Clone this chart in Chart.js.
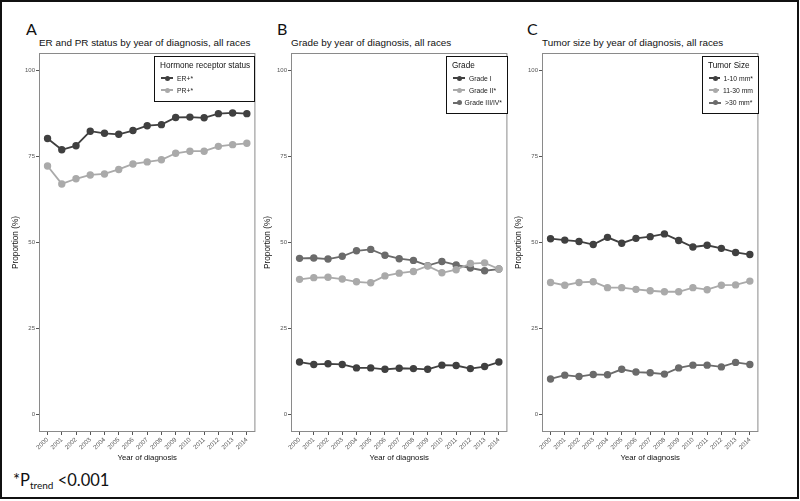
<!DOCTYPE html>
<html>
<head>
<meta charset="utf-8">
<script src="https://cdn.jsdelivr.net/npm/chart.js@4/dist/chart.umd.min.js"></script>
<style>
  body { margin: 0; background: #fff; }
  #page { position: relative; width: 800px; height: 501px; overflow: hidden; font-family: "Liberation Sans", Arial, sans-serif; }
  #frame { position: absolute; left: 0; top: 0; width: 799px; height: 499px; border: 2px solid #111; box-sizing: border-box; }
  .wrap { position: absolute; top: 48px; width: 260px; height: 417px; }
  .letter { position: absolute; top: 19px; font-family: Lato, sans-serif; font-size: 16px; color: #111; }
  .ptitle { position: absolute; top: 37px; font-size: 9.9px; color: #111; white-space: nowrap; }
  .legend { position: absolute; top: 56px; border: 1.5px solid #111; background: #fff; padding: 2px 5px 4px 5px; box-sizing: border-box; will-change: transform; }
  .legend .lt { height: 13px; line-height: 13px; font-size: 8.2px; color: #111; white-space: nowrap; }
  .legend .row { height: 12.3px; display: flex; align-items: center; font-size: 6.8px; color: #222; white-space: nowrap; }
  .key { position: relative; width: 12px; height: 2px; margin: 0 4px 0 1px; }
  .key i { position: absolute; left: 3.5px; top: -1.5px; width: 5px; height: 5px; border-radius: 50%; }
  #note { position: absolute; left: 13px; top: 470px; font-family: Lato, sans-serif; font-size: 16.5px; color: #111; }
  #note sub { font-size: 10px; vertical-align: -3px; }
</style>
</head>
<body>
<div id="page">
  <div id="frame"></div>
  <div class="letter" style="left:26px">A</div>
  <div class="letter" style="left:277px">B</div>
  <div class="letter" style="left:527px">C</div>
  <div class="ptitle" style="left:39px">ER and PR status by year of diagnosis, all races</div>
  <div class="ptitle" style="left:291px">Grade by year of diagnosis, all races</div>
  <div class="ptitle" style="left:542px">Tumor size by year of diagnosis, all races</div>
  <div class="wrap" style="left:0px"><canvas id="chartA"></canvas></div>
  <div class="wrap" style="left:252px"><canvas id="chartB"></canvas></div>
  <div class="wrap" style="left:503px"><canvas id="chartC"></canvas></div>
  <div id="legA" class="legend" style="left:154px;width:101px"></div>
  <div id="legB" class="legend" style="left:446px;width:62px"></div>
  <div id="legC" class="legend" style="left:702px;width:57px"></div>
  <div id="note">*P<sub>trend</sub> &lt;0.001</div>
</div>
<script>
const years = [2000, 2001, 2002, 2003, 2004, 2005, 2006, 2007, 2008, 2009, 2010, 2011, 2012, 2013, 2014];
const yTicks = [0, 25, 50, 75, 100];

// A: hormone receptor status
const erPos = [80.2, 76.9, 78.1, 82.3, 81.7, 81.4, 82.5, 83.9, 84.2, 86.3, 86.4, 86.2, 87.4, 87.6, 87.4];
const prPos = [72.2, 67.0, 68.5, 69.6, 69.9, 71.2, 72.8, 73.4, 74.0, 75.9, 76.5, 76.5, 77.9, 78.4, 78.8];

// B: grade
const grade1 = [15.3, 14.6, 14.8, 14.6, 13.6, 13.6, 13.2, 13.5, 13.4, 13.2, 14.4, 14.3, 13.4, 14.0, 15.3];
const grade2 = [39.3, 39.8, 39.9, 39.4, 38.6, 38.3, 40.3, 41.1, 41.6, 43.2, 41.2, 42.1, 43.9, 44.1, 42.3];
const grade34 = [45.4, 45.5, 45.2, 46.0, 47.6, 48.0, 46.3, 45.3, 44.8, 43.3, 44.5, 43.5, 42.6, 41.8, 42.3];

// C: tumor size
const size1to10 = [51.1, 50.7, 50.3, 49.4, 51.5, 49.8, 51.2, 51.7, 52.5, 50.6, 48.7, 49.2, 48.3, 47.1, 46.5];
const size11to30 = [38.4, 37.6, 38.4, 38.6, 36.9, 36.9, 36.4, 36.0, 35.7, 35.7, 36.9, 36.3, 37.6, 37.7, 38.8];
const sizeOver30 = [10.4, 11.5, 11.1, 11.7, 11.6, 13.2, 12.4, 12.2, 11.8, 13.6, 14.4, 14.4, 13.9, 15.2, 14.6];

const DARK = '#404040', LIGHT = '#aaaaaa', MID = '#6b6b6b';

// grey frame round each plot area
const boxPlugin = {
  id: 'panelBox',
  afterDraw(chart) {
    const { ctx, chartArea: a } = chart;
    ctx.save();
    ctx.strokeStyle = '#8a8a8a';
    ctx.lineWidth = 1;
    ctx.strokeRect(a.left + 0.5, a.top + 0.5, a.width - 1, a.height - 1);
    ctx.restore();
  }
};

function series(label, values, color) {
  return {
    label: label,
    data: years.map((y, i) => ({ x: y, y: values[i] })),
    borderColor: color,
    backgroundColor: color,
    borderWidth: 1.8,
    pointRadius: 2.8,
    pointHoverRadius: 2.8,
    tension: 0
  };
}

function makeChart(id, datasets) {
  return new Chart(document.getElementById(id), {
    type: 'line',
    data: { datasets: datasets },
    options: {
      responsive: true,
      maintainAspectRatio: false,
      animation: false,
      layout: { padding: { top: 5, right: 3, left: 0, bottom: 0 } },
      plugins: { legend: { display: false }, tooltip: { enabled: false } },
      scales: {
        x: {
          type: 'linear',
          min: 1999.4,
          max: 2014.6,
          afterBuildTicks: s => { s.ticks = years.map(v => ({ value: v })); },
          afterFit: s => { s.height = 33; },
          ticks: {
            autoSkip: false, minRotation: 45, maxRotation: 45, padding: 1,
            color: '#555', font: { size: 6.3, family: 'Liberation Sans' },
            callback: v => String(v)
          },
          grid: { display: true, drawOnChartArea: false, drawTicks: true, tickLength: 3, color: '#555' },
          border: { display: false },
          title: { display: true, text: 'Year of diagnosis', color: '#111',
                   font: { size: 7.8, family: 'Liberation Sans' }, padding: { top: 0, bottom: 2 } }
        },
        y: {
          min: -5,
          max: 105,
          afterBuildTicks: s => { s.ticks = yTicks.map(v => ({ value: v })); },
          afterFit: s => { s.width = 39; },
          ticks: { padding: 1, color: '#555', font: { size: 6, family: 'Liberation Sans' } },
          grid: { display: true, drawOnChartArea: false, drawTicks: true, tickLength: 3, color: '#555' },
          border: { display: false },
          title: { display: true, text: 'Proportion (%)', color: '#111',
                   font: { size: 8.2, family: 'Liberation Sans' }, padding: { top: 11, bottom: 0 } }
        }
      }
    },
    plugins: [boxPlugin]
  });
}

function makeLegend(id, title, datasets) {
  const el = document.getElementById(id);
  let html = '<div class="lt">' + title + '</div>';
  datasets.forEach(d => {
    html += '<div class="row"><span class="key" style="background:' + d.borderColor +
            '"><i style="background:' + d.borderColor + '"></i></span>' + d.label + '</div>';
  });
  el.innerHTML = html;
}

const dsA = [series('ER+*', erPos, DARK), series('PR+*', prPos, LIGHT)];
const dsB = [series('Grade I', grade1, DARK), series('Grade II*', grade2, LIGHT), series('Grade III/IV*', grade34, MID)];
const dsC = [series('1-10 mm*', size1to10, DARK), series('11-30 mm', size11to30, LIGHT), series('>30 mm*', sizeOver30, MID)];

makeChart('chartA', dsA);
makeChart('chartB', dsB);
makeChart('chartC', dsC);
makeLegend('legA', 'Hormone receptor status', dsA);
makeLegend('legB', 'Grade', dsB);
makeLegend('legC', 'Tumor Size', dsC);
</script>
</body>
</html>
